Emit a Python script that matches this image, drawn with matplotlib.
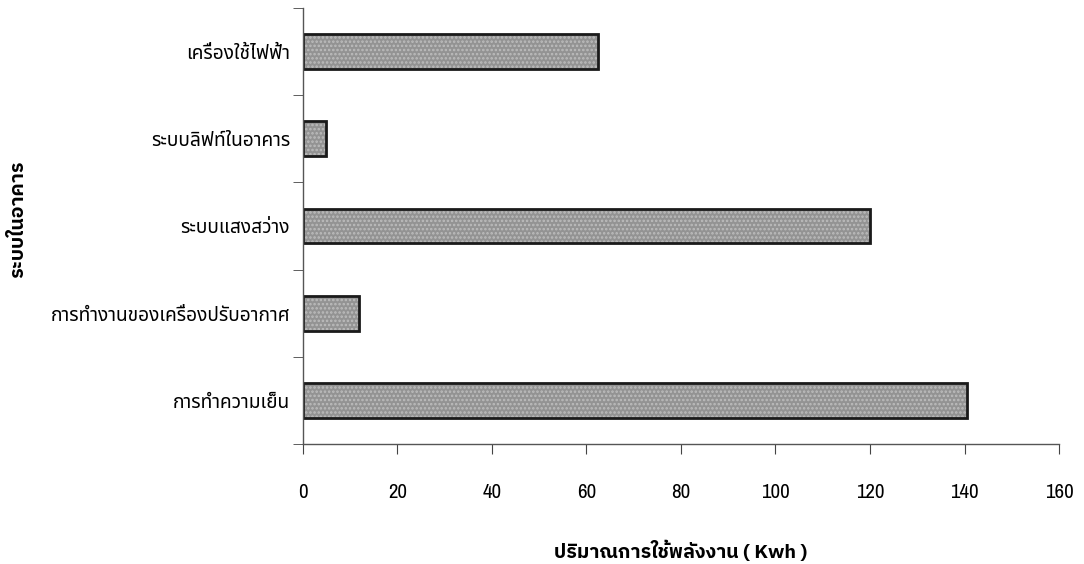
import matplotlib
matplotlib.use("Agg")
from matplotlib import pyplot as plt
from matplotlib import font_manager
from matplotlib.ft2font import FT2Font
import numpy as np

# data, bottom to top as drawn
systems = ["การทำความเย็น", "การทำงานของเครื่องปรับอากาศ", "ระบบแสงสว่าง",
           "ระบบลิฟท์ในอาคาร", "เครื่องใช้ไฟฟ้า"]
energy_kwh = [140.5, 12, 120, 5, 62.5]
x_ticks = [0, 20, 40, 60, 80, 100, 120, 140, 160]
x_label = "ปริมาณการใช้พลังงาน ( Kwh )"
y_label = "ระบบในอาคาร"


def find_thai_fonts():
    found = []
    for f in font_manager.fontManager.ttflist:
        try:
            if 0x0E01 in FT2Font(f.fname).get_charmap() and f.name not in found:
                found.append(f.name)
        except Exception:
            pass
    return found


def pick(cands, available):
    for c in cands:
        if c in available:
            return c
    return None


thai = find_thai_fonts()
thai_family = pick(["Noto Sans Thai", "IBM Plex Sans Thai"], thai) or (thai[0] if thai else "DejaVu Sans")
bold_family = pick(["IBM Plex Sans Thai", "Kanit", "Loma"], thai) or thai_family
all_names = set(f.name for f in font_manager.fontManager.ttflist)
digit_family = pick(["Liberation Sans Narrow", "Archivo Narrow", "Roboto Condensed"], all_names) or "Liberation Sans"

plt.rcParams["font.family"] = [thai_family, "DejaVu Sans"]
plt.rcParams["hatch.linewidth"] = 1.2

fig = plt.figure(figsize=(10.84, 5.64), dpi=100)
ax = fig.add_axes([0.2793, 0.2128, 0.977 - 0.2793, 0.9858 - 0.2128])

y = np.arange(len(systems))
ax.barh(y, energy_kwh, height=0.4, color="#939393", linewidth=0)
ax.barh(y, energy_kwh, height=0.4, facecolor="none", edgecolor="#bdbdbd", hatch="....", linewidth=0)
ax.barh(y, energy_kwh, height=0.4, facecolor="none", edgecolor="#1a1a1a", linewidth=2)

ax.set_xlim(0, 160)
ax.set_ylim(-0.5, len(systems) - 0.5)
ax.set_xticks(x_ticks)
ax.set_xticklabels([str(t) for t in x_ticks], fontsize=15, family=[digit_family, "DejaVu Sans"])
ax.tick_params(axis="x", direction="out", length=7, pad=21, color="#444")

# labels sit at the category centres, tick marks at the band edges
ax.set_yticks(y)
ax.set_yticklabels(systems, fontsize=13.8)
ax.tick_params(axis="y", which="major", length=0, pad=9)
ax.set_yticks(np.arange(-0.5, len(systems), 1.0), minor=True)
ax.tick_params(axis="y", which="minor", direction="out", length=7, color="#444")

for s in ["top", "right"]:
    ax.spines[s].set_visible(False)
for s in ["left", "bottom"]:
    ax.spines[s].set_color("#555")
    ax.spines[s].set_linewidth(1)

ax.set_xlabel(x_label, fontsize=14, fontweight="bold", family=[bold_family, "DejaVu Sans"])
ax.xaxis.set_label_coords(0.5, -0.222)
ax.set_ylabel(y_label, fontsize=14, fontweight="bold", family=[bold_family, "DejaVu Sans"])
ax.yaxis.set_label_coords(-0.365, 0.515)

fig.savefig("out.png", dpi=100)
